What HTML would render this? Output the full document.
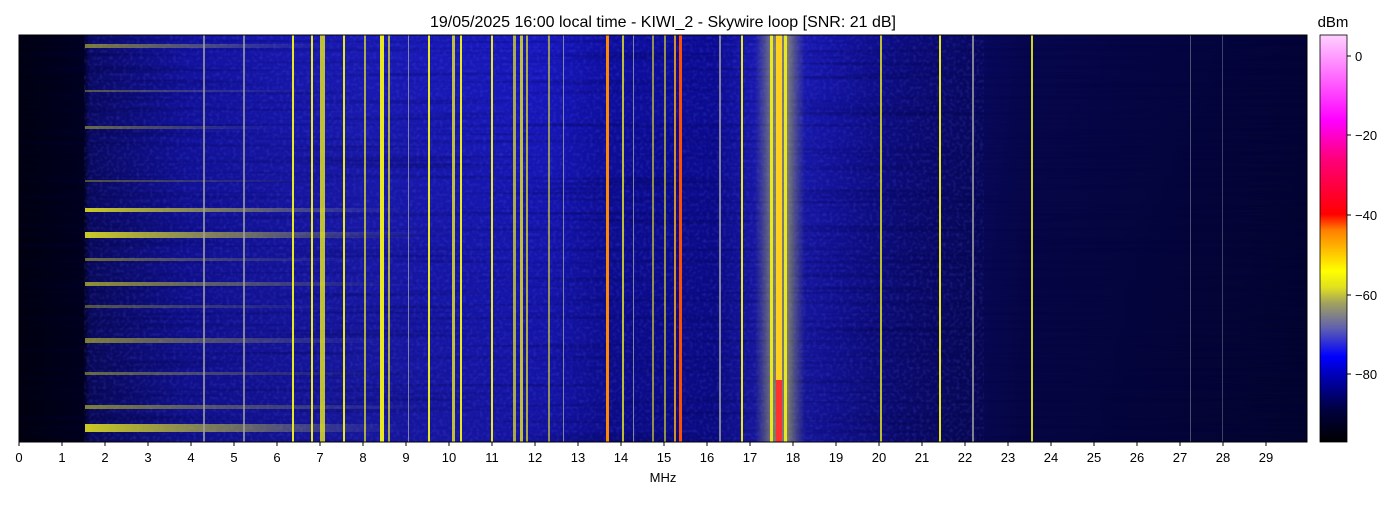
<!DOCTYPE html>
<html><head><meta charset="utf-8"><style>
html,body{margin:0;padding:0;background:#fff;}
svg text{font-family:"Liberation Sans",sans-serif;fill:#000;}
</style></head><body>
<svg width="1400" height="500" xmlns="http://www.w3.org/2000/svg">
<defs>
<filter id="noise" x="0" y="0" width="100%" height="100%">
<feTurbulence type="fractalNoise" baseFrequency="0.004 0.25" numOctaves="2" seed="3"/>
<feColorMatrix type="matrix" values="0 0 0 0 0  0 0 0 0 0  0 0 0 0 0.05  0 0 0 1.6 -0.8"/>
</filter>
<filter id="noise2" x="0" y="0" width="100%" height="100%">
<feTurbulence type="fractalNoise" baseFrequency="0.3 0.3" numOctaves="1" seed="7"/>
<feColorMatrix type="matrix" values="0 0 0 0 0.1  0 0 0 0 0.1  0 0 0 0 0.9  0 0 0 1.2 -0.55"/>
</filter>
<linearGradient id="bg" x1="0" x2="1" y1="0" y2="0">
<stop offset="0" stop-color="#000012"/>
<stop offset="0.05" stop-color="#000022"/>
<stop offset="0.055" stop-color="#0a0a66"/>
<stop offset="0.13" stop-color="#1212a0"/>
<stop offset="0.27" stop-color="#1a1ab4"/>
<stop offset="0.41" stop-color="#1818c0"/>
<stop offset="0.46" stop-color="#0e0ea0"/>
<stop offset="0.54" stop-color="#0c0c96"/>
<stop offset="0.585" stop-color="#2020c0"/>
<stop offset="0.63" stop-color="#1414a6"/>
<stop offset="0.68" stop-color="#0c0c80"/>
<stop offset="0.78" stop-color="#06064e"/>
<stop offset="1" stop-color="#030336"/>
</linearGradient>
<linearGradient id="vshade" x1="0" x2="0" y1="0" y2="1">
<stop offset="0" stop-color="#000" stop-opacity="0"/>
<stop offset="0.5" stop-color="#000" stop-opacity="0.1"/>
<stop offset="1" stop-color="#000" stop-opacity="0.15"/>
</linearGradient>
<linearGradient id="glow" x1="0" x2="1">
<stop offset="0" stop-color="#a0a060" stop-opacity="0"/>
<stop offset="0.35" stop-color="#c8c848" stop-opacity="0.55"/>
<stop offset="0.65" stop-color="#c8c848" stop-opacity="0.55"/>
<stop offset="1" stop-color="#a0a060" stop-opacity="0"/>
</linearGradient>
<linearGradient id="hs" x1="0" x2="1">
<stop offset="0" stop-color="#e0e020" stop-opacity="0.9"/>
<stop offset="0.5" stop-color="#c0c040" stop-opacity="0.5"/>
<stop offset="1" stop-color="#8080a0" stop-opacity="0"/>
</linearGradient>
<linearGradient id="cb" x1="0" x2="0" y1="1" y2="0">
<stop offset="0" stop-color="#000000"/>
<stop offset="0.08" stop-color="#000040"/>
<stop offset="0.17" stop-color="#0000c0"/>
<stop offset="0.21" stop-color="#0000ff"/>
<stop offset="0.28" stop-color="#6060b0"/>
<stop offset="0.34" stop-color="#a0a060"/>
<stop offset="0.38" stop-color="#e0e020"/>
<stop offset="0.42" stop-color="#ffff00"/>
<stop offset="0.52" stop-color="#ff8000"/>
<stop offset="0.56" stop-color="#ff0000"/>
<stop offset="0.70" stop-color="#ff0080"/>
<stop offset="0.79" stop-color="#ff00ff"/>
<stop offset="1" stop-color="#ffd0ff"/>
</linearGradient>
</defs>
<text x="663" y="27" font-size="16" text-anchor="middle">19/05/2025 16:00 local time - KIWI_2 - Skywire loop [SNR: 21 dB]</text>
<rect x="19" y="35" width="1288" height="407" fill="url(#bg)"/>
<rect x="19" y="35" width="1288" height="407" fill="url(#vshade)"/>
<rect x="84" y="35" width="900" height="407" filter="url(#noise2)" opacity="0.5"/>
<rect x="19" y="35" width="1288" height="407" filter="url(#noise)" opacity="0.6"/>
<rect x="755" y="35" width="50" height="407" fill="url(#glow)"/>
<g fill="url(#hs)">
<rect x="85" y="208" width="320" height="4"/>
<rect x="85" y="232" width="340" height="6"/>
<rect x="85" y="424" width="320" height="8"/>
<rect x="85" y="44" width="250" height="4" opacity="0.6"/>
<rect x="85" y="282" width="320" height="4" opacity="0.7"/>
<rect x="85" y="338" width="300" height="5" opacity="0.6"/>
<rect x="85" y="405" width="350" height="4" opacity="0.6"/>
<rect x="85" y="126" width="200" height="3" opacity="0.5"/>
<rect x="85" y="258" width="280" height="3" opacity="0.5"/>
<rect x="85" y="372" width="300" height="3" opacity="0.5"/>
<rect x="85" y="305" width="260" height="3" opacity="0.4"/>
<rect x="85" y="180" width="240" height="2" opacity="0.4"/>
<rect x="85" y="90" width="240" height="2" opacity="0.4"/>
</g>
<g fill="#e8e820">
<rect x="292" y="35" width="2" height="407"/>
<rect x="311" y="35" width="2" height="407"/>
<rect x="320" y="35" width="5" height="407" opacity="0.8"/>
<rect x="343" y="35" width="2" height="407"/>
<rect x="364" y="35" width="2" height="407" opacity="0.7"/>
<rect x="380" y="35" width="4" height="407"/>
<rect x="388" y="35" width="2" height="407" opacity="0.7"/>
<rect x="428" y="35" width="2" height="407"/>
<rect x="452" y="35" width="3" height="407" opacity="0.8"/>
<rect x="460" y="35" width="2" height="407"/>
<rect x="491" y="35" width="2" height="407"/>
<rect x="513" y="35" width="3" height="407" opacity="0.7"/>
<rect x="520" y="35" width="3" height="407" opacity="0.8"/>
<rect x="526" y="35" width="2" height="407" opacity="0.7"/>
<rect x="548" y="35" width="2" height="407" opacity="0.6"/>
<rect x="622" y="35" width="2" height="407" opacity="0.8"/>
<rect x="652" y="35" width="2" height="407" opacity="0.6"/>
<rect x="664" y="35" width="2" height="407" opacity="0.6"/>
<rect x="741" y="35" width="2" height="407"/>
<rect x="770" y="35" width="3" height="407"/>
<rect x="784" y="35" width="3" height="407"/>
<rect x="939" y="35" width="2" height="407"/>
<rect x="880" y="35" width="2" height="407" opacity="0.8"/>
<rect x="1031" y="35" width="2" height="407" opacity="0.9"/>
</g>
<g fill="#a0a0a0" opacity="0.8">
<rect x="203" y="35" width="2" height="407"/>
<rect x="243" y="35" width="2" height="407"/>
<rect x="408" y="35" width="1" height="407"/>
<rect x="563" y="35" width="1" height="407"/>
<rect x="633" y="35" width="1" height="407"/>
<rect x="719" y="35" width="2" height="407"/>
<rect x="972" y="35" width="2" height="407"/>
<rect x="1190" y="35" width="1" height="407" opacity="0.6"/>
<rect x="1222" y="35" width="1" height="407" opacity="0.5"/>
</g>
<rect x="606" y="35" width="3" height="407" fill="#ff8800"/>
<rect x="679" y="35" width="3" height="407" fill="#ff5000"/>
<rect x="674" y="35" width="2" height="407" fill="#d09030"/>
<rect x="776" y="35" width="6" height="407" fill="#ffd020"/>
<rect x="776" y="380" width="6" height="62" fill="#ff3030"/>
<rect x="19" y="35" width="1288" height="407" fill="none" stroke="#000" stroke-width="1"/>
<g font-size="13" text-anchor="middle">
<g stroke="#000">
<line x1="19" y1="442" x2="19" y2="446"/><line x1="62" y1="442" x2="62" y2="446"/><line x1="105" y1="442" x2="105" y2="446"/><line x1="148" y1="442" x2="148" y2="446"/><line x1="191" y1="442" x2="191" y2="446"/><line x1="234" y1="442" x2="234" y2="446"/><line x1="277" y1="442" x2="277" y2="446"/><line x1="320" y1="442" x2="320" y2="446"/><line x1="363" y1="442" x2="363" y2="446"/><line x1="406" y1="442" x2="406" y2="446"/><line x1="449" y1="442" x2="449" y2="446"/><line x1="492" y1="442" x2="492" y2="446"/><line x1="535" y1="442" x2="535" y2="446"/><line x1="578" y1="442" x2="578" y2="446"/><line x1="621" y1="442" x2="621" y2="446"/><line x1="664" y1="442" x2="664" y2="446"/><line x1="707" y1="442" x2="707" y2="446"/><line x1="750" y1="442" x2="750" y2="446"/><line x1="793" y1="442" x2="793" y2="446"/><line x1="836" y1="442" x2="836" y2="446"/><line x1="879" y1="442" x2="879" y2="446"/><line x1="922" y1="442" x2="922" y2="446"/><line x1="965" y1="442" x2="965" y2="446"/><line x1="1008" y1="442" x2="1008" y2="446"/><line x1="1051" y1="442" x2="1051" y2="446"/><line x1="1094" y1="442" x2="1094" y2="446"/><line x1="1137" y1="442" x2="1137" y2="446"/><line x1="1180" y1="442" x2="1180" y2="446"/><line x1="1223" y1="442" x2="1223" y2="446"/><line x1="1266" y1="442" x2="1266" y2="446"/>
</g>
<text x="19" y="462">0</text><text x="62" y="462">1</text><text x="105" y="462">2</text><text x="148" y="462">3</text><text x="191" y="462">4</text><text x="234" y="462">5</text><text x="277" y="462">6</text><text x="320" y="462">7</text><text x="363" y="462">8</text><text x="406" y="462">9</text><text x="449" y="462">10</text><text x="492" y="462">11</text><text x="535" y="462">12</text><text x="578" y="462">13</text><text x="621" y="462">14</text><text x="664" y="462">15</text><text x="707" y="462">16</text><text x="750" y="462">17</text><text x="793" y="462">18</text><text x="836" y="462">19</text><text x="879" y="462">20</text><text x="922" y="462">21</text><text x="965" y="462">22</text><text x="1008" y="462">23</text><text x="1051" y="462">24</text><text x="1094" y="462">25</text><text x="1137" y="462">26</text><text x="1180" y="462">27</text><text x="1223" y="462">28</text><text x="1266" y="462">29</text>
<text x="663" y="482">MHz</text>
</g>
<text x="1333" y="27" font-size="15" text-anchor="middle">dBm</text>
<rect x="1320" y="35" width="27" height="407" fill="url(#cb)" stroke="#000" stroke-width="0.8"/>
<g stroke="#000"><line x1="1347" y1="56" x2="1351" y2="56"/><line x1="1347" y1="135" x2="1351" y2="135"/><line x1="1347" y1="215" x2="1351" y2="215"/><line x1="1347" y1="295" x2="1351" y2="295"/><line x1="1347" y1="374" x2="1351" y2="374"/></g>
<g font-size="13">
<text x="1355" y="61">0</text><text x="1355" y="140">−20</text><text x="1355" y="220">−40</text><text x="1355" y="300">−60</text><text x="1355" y="379">−80</text>
</g>
</svg>
</body></html>
